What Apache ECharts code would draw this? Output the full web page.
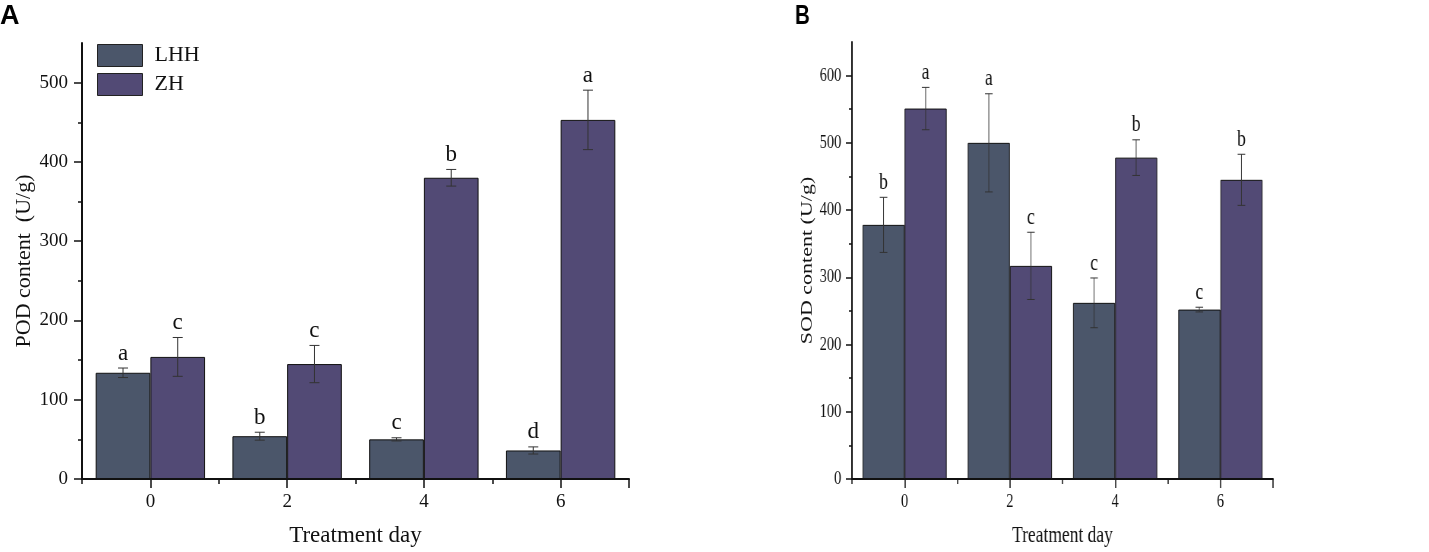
<!DOCTYPE html>
<html>
<head>
<meta charset="utf-8">
<script src="https://cdn.jsdelivr.net/npm/echarts@6/dist/echarts.min.js"></script>
<style>
  html, body { margin: 0; padding: 0; background: #fff; }
  #wrap { position: relative; width: 1429px; height: 552px; overflow: hidden; }
  #chartA { position: absolute; left: 0; top: 0; width: 760px; height: 552px; }
  /* panel B of the figure is squeezed sideways, so draw it wider and squeeze it back */
  #chartB { position: absolute; left: 760px; top: 0; width: 880px; height: 552px;
            transform-origin: 0 0; transform: scaleX(0.76); }
</style>
</head>
<body>
<div id="wrap">
  <div id="chartA"></div>
  <div id="chartB"></div>
</div>
<script>
var days = ['0', '2', '4', '6'];

// A: POD content
var podLHH = [134, 54, 50, 36];
var podLHHErr = [6, 5, 2, 4.5];
var podLHHSig = ['a', 'b', 'c', 'd'];
var podZH = [154, 145, 380, 453];
var podZHErr = [24.5, 23.5, 10.5, 37.5];
var podZHSig = ['c', 'c', 'b', 'a'];

// B: SOD content
var sodLHH = [378, 500, 262, 252];
var sodLHHErr = [41, 73, 37, 3.5];
var sodLHHSig = ['b', 'a', 'c', 'c'];
var sodZH = [551, 317, 478, 445];
var sodZHErr = [31.5, 50, 26.5, 38];
var sodZHSig = ['a', 'c', 'b', 'b'];

var podTicks = [0, 100, 200, 300, 400, 500];
var podMinor = [50, 150, 250, 350, 450];
var sodTicks = [0, 100, 200, 300, 400, 500, 600];
var sodMinor = [50, 150, 250, 350, 450, 550];

var FONT = 'Liberation Serif';
var colLHH = '#4b566a';
var colZH = '#524a75';

// error bar + significance letter, side = -1 (LHH) or 1 (ZH)
function errSeries(vals, errs, sigs, side) {
    return {
        type: 'custom',
        z: 10,
        silent: true,
        data: vals.map(function (v, i) { return [i, v, errs[i], sigs[i]]; }),
        renderItem: function (params, api) {
            var idx = api.value(0), v = api.value(1), e = api.value(2);
            var band = api.size([1, 0])[0];
            var x = api.coord([idx, v])[0] + side * band * 0.2;
            var yt = api.coord([idx, v + e])[1];
            var yb = api.coord([idx, v - e])[1];
            var cap = 5;
            var st = { stroke: '#333', lineWidth: 1 };
            return {
                type: 'group',
                children: [
                    { type: 'line', shape: { x1: x, y1: yt, x2: x, y2: yb }, style: st },
                    { type: 'line', shape: { x1: x - cap, y1: yt, x2: x + cap, y2: yt }, style: st },
                    { type: 'line', shape: { x1: x - cap, y1: yb, x2: x + cap, y2: yb }, style: st },
                    { type: 'text', x: x, y: yt - 3, style: {
                        text: api.value(3), fontFamily: FONT, fontSize: 23, fill: '#111',
                        align: 'center', verticalAlign: 'bottom' } }
                ]
            };
        }
    };
}

function catAxis() {
    return {
        type: 'category', position: 'bottom', data: days, boundaryGap: true,
        name: 'Treatment day', nameLocation: 'middle', nameGap: 45, nameMoveOverlap: false,
        nameTextStyle: { fontFamily: FONT, fontSize: 23, color: '#111' },
        axisLine: { lineStyle: { color: '#111', width: 2 } },
        axisTick: { show: true, length: 5, lineStyle: { color: '#111', width: 1.5 } },
        axisLabel: { fontFamily: FONT, fontSize: 19, color: '#111', margin: 14 }
    };
}
// second category axis with 8 cells, draws the long ticks under each day
function tickAxis() {
    return {
        type: 'category', position: 'bottom', offset: 0,
        data: ['', '', '', '', '', '', '', ''], boundaryGap: true,
        axisLine: { show: false },
        axisTick: { show: true, length: 9, interval: function (i) { return i % 2 === 1; },
                    lineStyle: { color: '#111', width: 1.5 } },
        axisLabel: { show: false }
    };
}
function valAxis(max, ticks, name, gap) {
    return {
        type: 'value', position: 'left', min: 0, max: max,
        name: name, nameLocation: 'middle', nameGap: gap, nameMoveOverlap: false,
        nameTextStyle: { fontFamily: FONT, fontSize: 22, color: '#111' },
        splitLine: { show: false },
        axisLine: { show: true, lineStyle: { color: '#111', width: 2 } },
        axisTick: { show: true, length: 8, customValues: ticks, lineStyle: { color: '#111', width: 1.5 } },
        axisLabel: { fontFamily: FONT, fontSize: 19, color: '#111', margin: 14, customValues: ticks }
    };
}
function minorAxis(max, ticks) {
    return {
        type: 'value', min: 0, max: max, position: 'left', offset: 0,
        splitLine: { show: false },
        axisLine: { show: false },
        axisTick: { show: true, length: 4, customValues: ticks, lineStyle: { color: '#111', width: 1.5 } },
        axisLabel: { show: false }
    };
}
function barSeries(name, data, color) {
    return {
        name: name, type: 'bar', data: data,
        barGap: '0%', barCategoryGap: '20%',
        itemStyle: { color: color, borderColor: '#111', borderWidth: 1 }
    };
}
function panelLetter(txt, left) {
    return { type: 'text', left: left, top: 3,
             style: { text: txt, fontFamily: 'Liberation Sans', fontWeight: 'bold', fontSize: 27, fill: '#000' } };
}

var optionA = {
    animation: false,
    backgroundColor: '#fff',
    graphic: [panelLetter('A', 0)],
    legend: {
        data: ['LHH', 'ZH'],
        orient: 'vertical',
        left: 97, top: 44, padding: 0,
        itemWidth: 45, itemHeight: 22, itemGap: 6,
        icon: 'rect',
        itemStyle: { borderWidth: 1, borderColor: '#222' },
        textStyle: { fontFamily: FONT, fontSize: 22, color: '#111', padding: [0, 0, 0, 7] }
    },
    grid: { left: 82, top: 43, width: 547, height: 439 },
    xAxis: [catAxis(), tickAxis()],
    yAxis: [valAxis(550, podTicks, 'POD content  (U/g)', 47), minorAxis(550, podMinor)],
    series: [
        barSeries('LHH', podLHH, colLHH),
        barSeries('ZH', podZH, colZH),
        errSeries(podLHH, podLHHErr, podLHHSig, -1),
        errSeries(podZH, podZHErr, podZHSig, 1)
    ]
};

var optionB = {
    animation: false,
    backgroundColor: 'transparent',
    graphic: [panelLetter('B', 46)],
    grid: { left: 121, top: 42, width: 554, height: 440 },
    xAxis: [catAxis(), tickAxis()],
    yAxis: [valAxis(650, sodTicks, 'SOD content (U/g)', 48), minorAxis(650, sodMinor)],
    series: [
        barSeries('LHH', sodLHH, colLHH),
        barSeries('ZH', sodZH, colZH),
        errSeries(sodLHH, sodLHHErr, sodLHHSig, -1),
        errSeries(sodZH, sodZHErr, sodZHSig, 1)
    ]
};

var chartA = echarts.init(document.getElementById('chartA'));
var chartB = echarts.init(document.getElementById('chartB'));
chartA.setOption(optionA);
chartB.setOption(optionB);
</script>
</body>
</html>
